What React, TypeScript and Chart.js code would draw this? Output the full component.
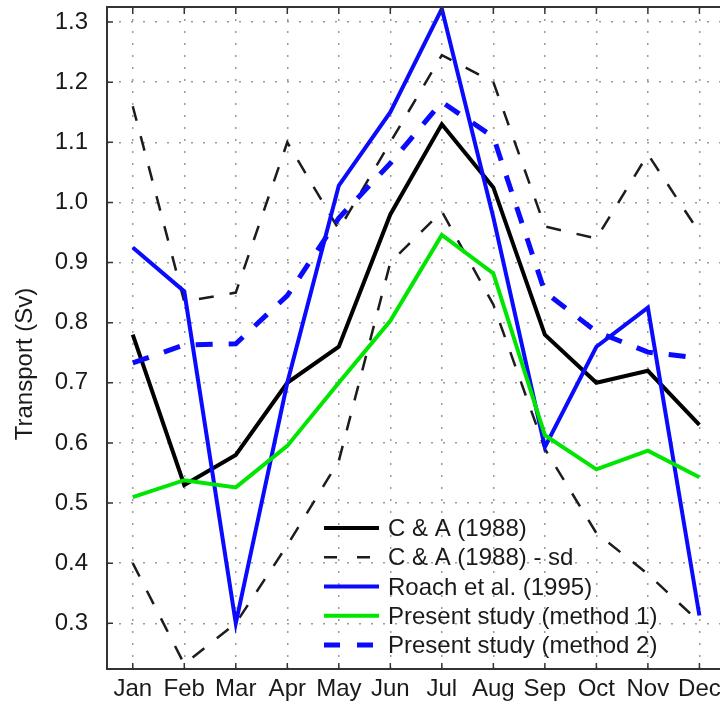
import React, { useEffect, useRef } from "react";
import { Chart, registerables } from "chart.js";

Chart.register(...registerables);

const months = ["Jan", "Feb", "Mar", "Apr", "May", "Jun", "Jul", "Aug", "Sep", "Oct", "Nov", "Dec"];
const yTicks = [0.3, 0.4, 0.5, 0.6, 0.7, 0.8, 0.9, 1.0, 1.1, 1.2, 1.3];

const caMean = [0.78, 0.53, 0.58, 0.7, 0.76, 0.98, 1.13, 1.025, 0.78, 0.7, 0.72, 0.63];
const caUpper = [1.16, 0.835, 0.85, 1.1, 0.955, 1.1, 1.245, 1.2, 0.96, 0.94, 1.08, 0.95];
const caLower = [0.4, 0.232, 0.3, 0.43, 0.57, 0.9, 0.985, 0.83, 0.59, 0.45, 0.382, 0.302];
const roach = [0.925, 0.852, 0.3, 0.7, 1.028, 1.15, 1.322, 0.975, 0.593, 0.76, 0.825, 0.313];
const method1 = [0.51, 0.538, 0.526, 0.595, 0.7, 0.803, 0.946, 0.882, 0.613, 0.556, 0.587, 0.543];
const method2 = [0.733, 0.763, 0.765, 0.845, 0.974, 1.065, 1.167, 1.109, 0.851, 0.785, 0.751, 0.741];

const legendLabels = [
  "C & A (1988)",
  "C & A (1988) - sd",
  "Roach et al. (1995)",
  "Present study (method 1)",
  "Present study (method 2)",
];
const yTitle = "Transport (Sv)";

const FONT = "'Liberation Sans', Arial, Helvetica, sans-serif";
const BLACK = "#000000";
const DASHBLACK = "#1c1c1c";
const BLUE = "#0a0aff";
const GREEN = "#00e600";

const legendStyles = [
  { color: BLACK, width: 4, dash: [] as number[] },
  { color: DASHBLACK, width: 2.5, dash: [13, 20] },
  { color: BLUE, width: 4, dash: [] as number[] },
  { color: GREEN, width: 4, dash: [] as number[] },
  { color: BLUE, width: 5, dash: [16, 17] },
];

const toPts = (arr: number[]) => arr.map((v, i) => ({ x: i, y: v }));

const framePlugin = {
  id: "framePlugin",
  afterDraw(chart: any) {
    const { ctx, chartArea, scales } = chart;
    const { left, right, top, bottom } = chartArea;
    ctx.save();
    // frame
    ctx.strokeStyle = "#333333";
    ctx.lineWidth = 2;
    ctx.setLineDash([]);
    ctx.beginPath();
    ctx.moveTo(right + 5, top);
    ctx.lineTo(left, top);
    ctx.lineTo(left, bottom);
    ctx.lineTo(right + 5, bottom);
    ctx.stroke();
    // inward ticks
    ctx.lineWidth = 1.5;
    ctx.beginPath();
    yTicks.forEach((v) => {
      const py = scales.y.getPixelForValue(v);
      ctx.moveTo(left, py);
      ctx.lineTo(left + 6, py);
    });
    months.forEach((_, i) => {
      const px = scales.x.getPixelForValue(i);
      ctx.moveTo(px, top);
      ctx.lineTo(px, top + 7);
      ctx.moveTo(px, bottom);
      ctx.lineTo(px, bottom - 6);
    });
    ctx.stroke();

    // y title
    ctx.fillStyle = "#1a1a1a";
    ctx.font = `24px ${FONT}`;
    ctx.save();
    ctx.translate(32, 364);
    ctx.rotate(-Math.PI / 2);
    ctx.textAlign = "center";
    ctx.textBaseline = "alphabetic";
    ctx.fillText(yTitle, 0, 0);
    ctx.restore();

    // legend
    const x0 = 324;
    const x1 = 379;
    const tx = 388;
    legendLabels.forEach((label, i) => {
      const ly = 528 + i * 29.25;
      const st = legendStyles[i];
      ctx.strokeStyle = st.color;
      ctx.lineWidth = st.width;
      ctx.setLineDash(st.dash);
      ctx.lineCap = "butt";
      ctx.beginPath();
      ctx.moveTo(x0, ly);
      ctx.lineTo(x1, ly);
      ctx.stroke();
      ctx.setLineDash([]);
      ctx.fillStyle = "#1a1a1a";
      ctx.font = `24px ${FONT}`;
      ctx.textAlign = "left";
      ctx.textBaseline = "middle";
      ctx.fillText(label, tx, ly + 1.5);
    });
    ctx.restore();
  },
};

export default function App() {
  const canvasRef = useRef<HTMLCanvasElement | null>(null);

  useEffect(() => {
    if (!canvasRef.current) return;
    const gridCommon = {
      color: "#9a9a9a",
      lineWidth: 1.5,
      drawTicks: false,
    };
    const chart = new Chart(canvasRef.current, {
      type: "line",
      data: {
        datasets: [
          {
            label: legendLabels[0],
            data: toPts(caMean),
            borderColor: BLACK,
            borderWidth: 4,
            order: 5,
          },
          {
            label: legendLabels[1],
            data: toPts(caUpper),
            borderColor: DASHBLACK,
            borderWidth: 2.5,
            borderDash: [15, 16],
            order: 4,
          },
          {
            label: legendLabels[1],
            data: toPts(caLower),
            borderColor: DASHBLACK,
            borderWidth: 2.5,
            borderDash: [15, 16],
            order: 4,
          },
          {
            label: legendLabels[2],
            data: toPts(roach),
            borderColor: BLUE,
            borderWidth: 4,
            order: 3,
          },
          {
            label: legendLabels[3],
            data: toPts(method1),
            borderColor: GREEN,
            borderWidth: 4,
            order: 2,
          },
          {
            label: legendLabels[4],
            data: toPts(method2),
            borderColor: BLUE,
            borderWidth: 5,
            borderDash: [17, 16],
            order: 1,
          },
        ],
      },
      options: {
        animation: false,
        responsive: false,
        devicePixelRatio: 1,
        layout: { padding: { top: 7, left: 0, right: 0, bottom: 0 } },
        plugins: { legend: { display: false }, tooltip: { enabled: false } },
        elements: {
          point: { radius: 0, hoverRadius: 0 },
          line: { tension: 0, fill: false },
        },
        scales: {
          x: {
            type: "linear",
            min: -0.5,
            max: 11.4,
            afterBuildTicks: (s: any) => {
              s.ticks = months.map((_, i) => ({ value: i }));
            },
            afterFit: (s: any) => {
              s.height = 36;
              s.paddingLeft = 0;
              s.paddingRight = 0;
            },
            ticks: {
              callback: (v: any) => months[Math.round(Number(v))] ?? "",
              padding: 6,
              maxRotation: 0,
              autoSkip: false,
              color: "#1a1a1a",
              font: { family: FONT, size: 24 },
            },
            grid: gridCommon,
            border: { display: false, dash: [2, 10] },
          },
          y: {
            type: "linear",
            min: 0.224,
            max: 1.325,
            afterBuildTicks: (s: any) => {
              s.ticks = yTicks.map((v) => ({ value: v }));
            },
            afterFit: (s: any) => {
              s.width = 107;
              s.paddingTop = 0;
              s.paddingBottom = 0;
            },
            ticks: {
              callback: (v: any) => Number(v).toFixed(1),
              padding: 19,
              color: "#1a1a1a",
              font: { family: FONT, size: 24 },
            },
            grid: gridCommon,
            border: { display: false, dash: [2, 10] },
          },
        },
      } as any,
      plugins: [framePlugin],
    });
    return () => chart.destroy();
  }, []);

  return (
    <div style={{ position: "absolute", left: 0, top: 0, width: 720, height: 705, background: "#fff" }}>
      <canvas ref={canvasRef} width={720} height={705} />
    </div>
  );
}
